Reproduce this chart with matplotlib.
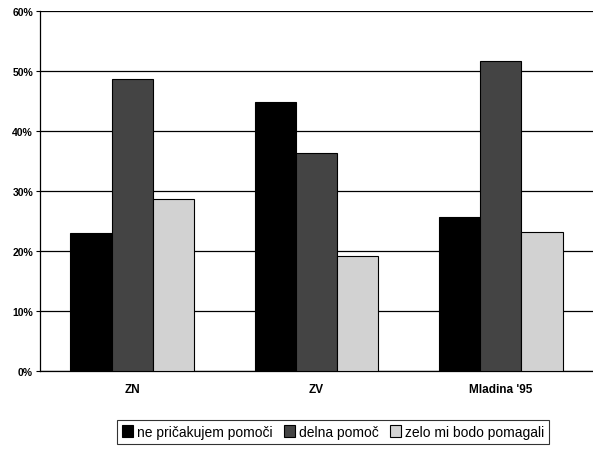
import numpy as np
import matplotlib
matplotlib.use("Agg")
import matplotlib.pyplot as plt

plt.rcParams["font.family"] = ["Liberation Sans", "DejaVu Sans"]

categories = ["ZN", "ZV", "Mladina '95"]
series_names = ["ne pričakujem pomoči", "delna pomoč", "zelo mi bodo pomagali"]
ne_pricakujem = [23.0, 44.9, 25.7]
delna = [48.7, 36.3, 51.6]
zelo = [28.7, 19.2, 23.1]
yticks = [0, 10, 20, 30, 40, 50, 60]

colors = ["#000000", "#444444", "#d2d2d2"]

fig = plt.figure(figsize=(5.93, 4.52), dpi=100)
ax = fig.add_axes([40 / 593, 80 / 452, 553 / 593, 360 / 452])

x = np.arange(len(categories))
w = 0.224
for i, vals in enumerate([ne_pricakujem, delna, zelo]):
    ax.bar(x + (i - 1) * w, vals, w, color=colors[i], edgecolor="black",
           linewidth=0.8, label=series_names[i], zorder=3)

ax.set_xlim(-0.5, 2.5)
ax.set_ylim(0, 60)
ax.set_yticks(yticks)
ax.set_yticklabels([f"{t}%" for t in yticks], fontsize=7.5, fontweight="bold")
ax.set_xticks(x)
ax.set_xticklabels(categories, fontsize=8.5, fontweight="bold")
ax.tick_params(axis="x", length=0, pad=9)
ax.tick_params(axis="y", length=3, width=0.8, pad=2)
ax.yaxis.grid(True, color="black", linewidth=0.9, zorder=0)
ax.set_axisbelow(True)
for s in ["top", "right"]:
    ax.spines[s].set_visible(False)
ax.spines["left"].set_linewidth(0.9)
ax.spines["bottom"].set_linewidth(0.9)

leg = fig.legend(loc="center", bbox_to_anchor=(333 / 593, 1 - 433 / 452), ncol=3,
                 fontsize=10, frameon=True, fancybox=False, edgecolor="black",
                 handlelength=0.8, handleheight=0.9, handletextpad=0.3,
                 columnspacing=0.8, borderpad=0.35)
leg.get_frame().set_linewidth(0.8)

fig.savefig("out.png", dpi=100)
